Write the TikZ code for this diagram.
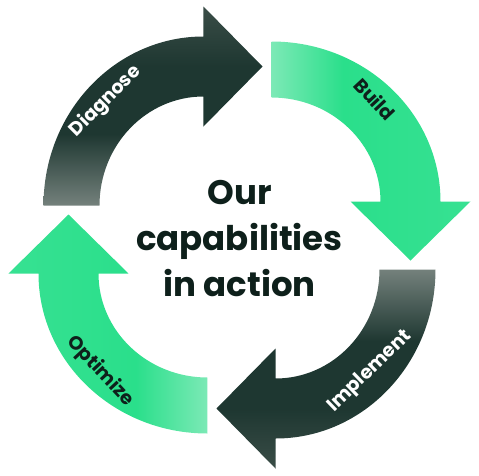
\documentclass[tikz,border=0pt]{standalone}
\usepackage{fontspec}
\setmainfont{Poppins}[BoldFont={* Bold}]
\usepackage{xcolor}
\usepackage{tikz}
\definecolor{ink}{HTML}{0E201B}
\definecolor{slate}{HTML}{1E3731}
\definecolor{slatehi}{HTML}{3A4D47}
\definecolor{slatelo}{HTML}{74817C}
\definecolor{mint}{HTML}{2ADF8B}
\definecolor{mintlo}{HTML}{7CE9B6}
\pgfdeclareverticalshading{diagshade}{100bp}{color(0bp)=(slatelo); color(25bp)=(slatelo); color(43bp)=(slate); color(60bp)=(slate); color(75bp)=(slatehi); color(100bp)=(slatehi)}
\pgfdeclareverticalshading{implshade}{100bp}{color(0bp)=(slatehi); color(25bp)=(slatehi); color(40bp)=(slate); color(57bp)=(slate); color(75bp)=(slatelo); color(100bp)=(slatelo)}
\pgfdeclarehorizontalshading{buildshade}{100bp}{color(0bp)=(mintlo); color(25bp)=(mintlo); color(43bp)=(mint); color(75bp)=(mint!94!white); color(100bp)=(mint!94!white)}
\pgfdeclarehorizontalshading{optimshade}{100bp}{color(0bp)=(mint!94!white); color(25bp)=(mint!94!white); color(57bp)=(mint); color(75bp)=(mintlo); color(100bp)=(mintlo)}
\tikzset{
  lab/.style={text=ink, font=\bfseries\fontsize{19}{19}\selectfont, inner sep=0pt},
  labw/.style={lab, text=white},
  title/.style={text=ink, font=\bfseries\fontsize{34}{46}\selectfont, align=center},
}
\begin{document}
\begin{tikzpicture}[x=1pt,y=1pt]
  \useasboundingbox (-239.5,-237.5) rectangle (239.5,237.5);

  % Diagnose
  \shade[shading=diagshade]
    (-196,32) arc[start angle=180,end angle=90,x radius=160,y radius=169]
    -- (-36,231) -- (23,171) -- (-36,111) -- (-36,141)
    arc[start angle=90,end angle=180,x radius=104,y radius=109] -- cycle;
  % Build
  \shade[shading=buildshade]
    (32,196) arc[start angle=90,end angle=0,x radius=169,y radius=160]
    -- (231,36) -- (171,-23) -- (111,36) -- (141,36)
    arc[start angle=0,end angle=90,x radius=109,y radius=104] -- cycle;
  % Implement
  \shade[shading=implshade]
    (196,-32) arc[start angle=0,end angle=-90,x radius=160,y radius=169]
    -- (36,-231) -- (-23,-171) -- (36,-111) -- (36,-141)
    arc[start angle=-90,end angle=0,x radius=104,y radius=109] -- cycle;
  % Optimize
  \shade[shading=optimshade]
    (-32,-196) arc[start angle=-90,end angle=-180,x radius=169,y radius=160]
    -- (-231,-36) -- (-171,23) -- (-111,-36) -- (-141,-36)
    arc[start angle=180,end angle=270,x radius=109,y radius=104] -- cycle;

  \node[labw, rotate=45] (diag) at (-134,136) {Diagnose};
  \node[lab, rotate=-47] (build) at (135.5,138.5) {Build};
  \node[labw, rotate=44] (impl) at (130.5,-134) {Implement};
  \node[lab, rotate=-47] (optim) at (-139,-134) {Optimize};

  \node[title] (cap) at (0,-1) {Our\\capabilities\\in action};
\end{tikzpicture}
\end{document}
